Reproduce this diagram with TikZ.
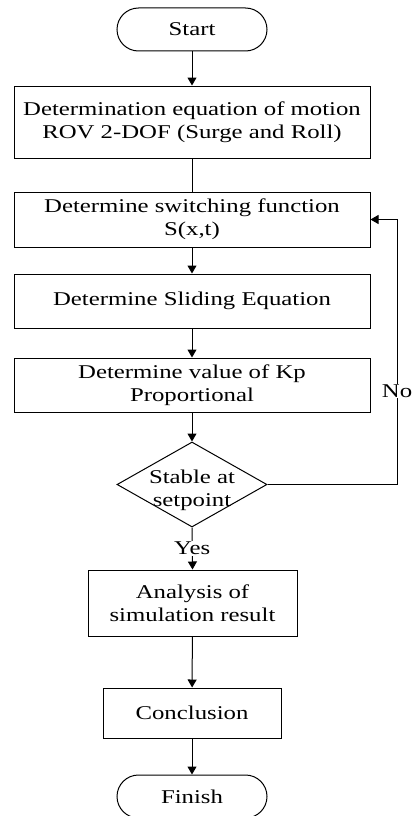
\documentclass[tikz,border=0pt]{standalone}
\usepackage{fontspec}
\setmainfont{Liberation Serif}[FakeStretch=1.27]
\usetikzlibrary{arrows.meta,shapes.geometric}
\begin{document}
\begin{tikzpicture}[x=1pt,y=1pt,
  every node/.style={font=\fontsize{19.5}{23}\selectfont, align=center, inner sep=0pt},
  procbox/.style={draw, line width=1pt, rectangle},
  termbox/.style={draw, line width=1pt, rectangle, rounded corners=21.5pt, minimum width=150pt, minimum height=43pt},
  decbox/.style={draw, line width=1pt, diamond, minimum width=150pt, minimum height=85pt},
  flow/.style={line width=1pt, -{Triangle[width=9pt,length=8pt]}},
  plain/.style={line width=1pt},
  lbl/.style={fill=white, inner sep=1pt}]
\useasboundingbox (0,0) rectangle (413,-816);
\node[termbox] (start) at (192,-29.5) {Start};
\node[procbox, minimum width=356pt, minimum height=72pt] (b1) at (192,-122) {Determination equation of motion\\ROV 2-DOF (Surge and Roll)};
\node[procbox, minimum width=356pt, minimum height=55pt] (b2) at (192,-219.5) {Determine switching function\\S(x,t)};
\node[procbox, minimum width=356pt, minimum height=54pt] (b3) at (192,-301) {Determine Sliding Equation};
\node[procbox, minimum width=356pt, minimum height=54pt] (b4) at (192,-385) {Determine value of Kp\\Proportional};
\node[decbox] (dec) at (192,-484.5) {};
\node (dectext) at (192,-490) {Stable at\\setpoint};
\node[procbox, minimum width=209pt, minimum height=66pt] (ana) at (192.5,-603) {Analysis of\\simulation result};
\node[procbox, minimum width=178pt, minimum height=50pt] (con) at (192,-713) {Conclusion};
\node[termbox] (fin) at (192,-796.5) {Finish};
\coordinate (fbc) at (397,-484.5);
\draw[flow] (start) -- (b1);
\draw[plain] (b1) -- (b2);
\draw[flow] (b2) -- (b3);
\draw[flow] (b3) -- (b4);
\draw[flow] (b4) -- (dec);
\draw[flow] (dec.south) -- node[lbl] (yes) {Yes} (ana.north);
\draw[flow] (ana) -- (con);
\draw[flow] (con) -- (fin);
\draw[flow] (dec.east) -- (fbc) |- (b2.east);
\node[lbl] (no) at (397,-391) {No};
\end{tikzpicture}
\end{document}
